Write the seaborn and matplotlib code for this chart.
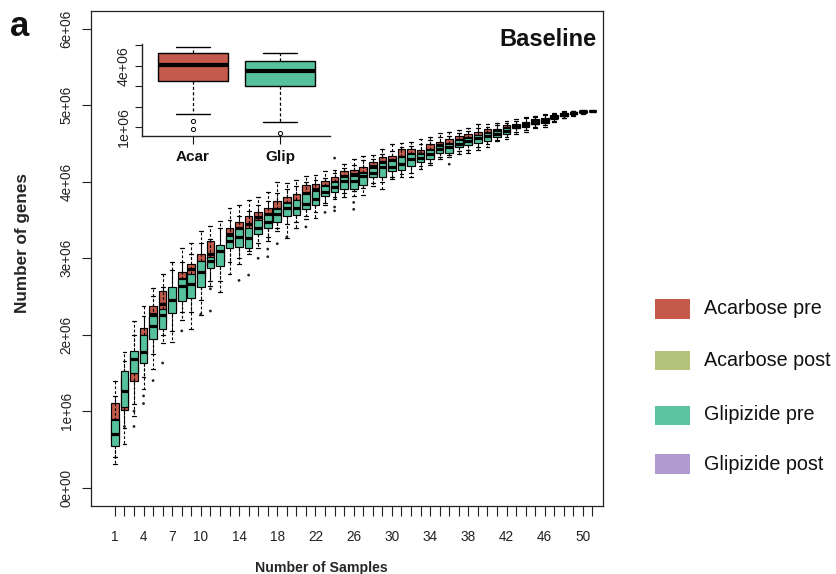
import numpy as np
import pandas as pd
import matplotlib
matplotlib.use("Agg")
import matplotlib.pyplot as plt
import seaborn as sns
from matplotlib.patches import Rectangle

# ---------------- data (values in units of 1e6 genes) ----------------
samples = list(range(1, 52))

acar_lo = [0.40, 0.78, 1.10, 1.45, 1.75, 2.00, 2.05, 2.30, 2.30, 2.45,
           2.70, 2.70, 2.95, 3.00, 3.10, 3.20, 3.28, 3.40, 3.45, 3.48,
           3.55, 3.60, 3.72, 3.80, 3.85, 3.88, 3.92, 3.98, 4.00, 4.06,
           4.10, 4.12, 4.20, 4.25, 4.32, 4.35, 4.40, 4.42, 4.46, 4.50,
           4.55, 4.59, 4.65, 4.68, 4.72, 4.74, 4.80, 4.84, 4.87, 4.90, 4.93]
acar_q1 = [0.62, 1.02, 1.40, 1.75, 2.05, 2.15, 2.32, 2.55, 2.62, 2.75,
           2.90, 2.95, 3.18, 3.25, 3.30, 3.38, 3.45, 3.52, 3.58, 3.62,
           3.70, 3.75, 3.84, 3.90, 3.95, 3.98, 4.02, 4.08, 4.12, 4.17,
           4.20, 4.24, 4.28, 4.32, 4.39, 4.42, 4.47, 4.50, 4.54, 4.57,
           4.61, 4.65, 4.71, 4.73, 4.76, 4.78, 4.83, 4.86, 4.89, 4.91, 4.93]
acar_med = [0.88, 1.22, 1.51, 1.95, 2.27, 2.40, 2.50, 2.73, 2.86, 2.95,
            3.05, 3.08, 3.32, 3.40, 3.45, 3.54, 3.58, 3.64, 3.72, 3.75,
            3.85, 3.90, 3.95, 4.00, 4.08, 4.10, 4.12, 4.20, 4.26, 4.28,
            4.32, 4.36, 4.36, 4.42, 4.48, 4.50, 4.54, 4.57, 4.60, 4.64,
            4.66, 4.70, 4.73, 4.76, 4.79, 4.81, 4.85, 4.88, 4.90, 4.92, 4.93]
acar_q3 = [1.11, 1.45, 1.74, 2.09, 2.38, 2.57, 2.60, 2.82, 2.92, 3.05,
           3.23, 3.15, 3.40, 3.48, 3.55, 3.61, 3.66, 3.75, 3.80, 3.84,
           3.96, 3.97, 4.01, 4.06, 4.14, 4.15, 4.19, 4.26, 4.32, 4.34,
           4.43, 4.43, 4.41, 4.49, 4.52, 4.56, 4.60, 4.62, 4.65, 4.69,
           4.69, 4.74, 4.75, 4.78, 4.82, 4.84, 4.87, 4.90, 4.91, 4.92, 4.93]
acar_hi = [1.40, 1.66, 2.00, 2.37, 2.61, 2.80, 2.95, 3.13, 3.20, 3.35,
           3.42, 3.40, 3.66, 3.69, 3.76, 3.80, 3.86, 4.00, 3.98, 4.02,
           4.08, 4.09, 4.14, 4.16, 4.23, 4.30, 4.34, 4.35, 4.43, 4.49,
           4.51, 4.52, 4.56, 4.59, 4.64, 4.65, 4.68, 4.70, 4.75, 4.76,
           4.77, 4.79, 4.82, 4.85, 4.86, 4.88, 4.90, 4.92, 4.93, 4.94, 4.93]

glip_lo = [0.31, 0.57, 0.94, 1.29, 1.55, 1.89, 1.90, 2.19, 2.08, 2.26,
           2.64, 2.56, 2.80, 2.92, 3.06, 3.14, 3.23, 3.36, 3.27, 3.40,
           3.51, 3.53, 3.69, 3.78, 3.80, 3.82, 3.83, 3.94, 3.90, 4.04,
           4.06, 4.06, 4.17, 4.22, 4.30, 4.32, 4.36, 4.38, 4.42, 4.46,
           4.53, 4.56, 4.62, 4.65, 4.70, 4.72, 4.78, 4.83, 4.86, 4.89, 4.93]
glip_q1 = [0.55, 1.06, 1.50, 1.63, 1.94, 2.08, 2.28, 2.44, 2.48, 2.62,
           2.87, 2.90, 3.14, 3.15, 3.14, 3.32, 3.40, 3.47, 3.55, 3.57,
           3.64, 3.69, 3.81, 3.87, 3.90, 3.91, 3.96, 4.06, 4.06, 4.14,
           4.16, 4.21, 4.26, 4.30, 4.37, 4.38, 4.45, 4.48, 4.51, 4.53,
           4.59, 4.63, 4.70, 4.72, 4.75, 4.77, 4.83, 4.86, 4.89, 4.91, 4.93]
glip_med = [0.70, 1.27, 1.68, 1.77, 2.11, 2.26, 2.45, 2.64, 2.66, 2.82,
            2.97, 3.10, 3.22, 3.28, 3.26, 3.40, 3.48, 3.58, 3.66, 3.66,
            3.71, 3.78, 3.86, 3.93, 4.01, 4.01, 4.08, 4.12, 4.19, 4.19,
            4.23, 4.30, 4.31, 4.36, 4.43, 4.45, 4.50, 4.53, 4.57, 4.60,
            4.63, 4.67, 4.72, 4.74, 4.77, 4.79, 4.84, 4.87, 4.90, 4.91, 4.93]
glip_q3 = [0.88, 1.52, 1.79, 2.00, 2.25, 2.34, 2.62, 2.73, 2.79, 2.97,
           3.02, 3.17, 3.29, 3.38, 3.40, 3.50, 3.56, 3.65, 3.72, 3.76,
           3.84, 3.88, 3.95, 4.00, 4.06, 4.08, 4.12, 4.18, 4.25, 4.27,
           4.32, 4.36, 4.36, 4.42, 4.47, 4.50, 4.54, 4.57, 4.61, 4.64,
           4.66, 4.70, 4.74, 4.76, 4.79, 4.82, 4.86, 4.89, 4.91, 4.92, 4.93]
glip_hi = [1.20, 1.78, 2.18, 2.25, 2.50, 2.62, 2.85, 2.95, 3.05, 3.20,
           3.25, 3.49, 3.50, 3.55, 3.62, 3.70, 3.75, 3.85, 3.90, 3.95,
           4.00, 4.02, 4.05, 4.12, 4.18, 4.22, 4.28, 4.30, 4.36, 4.40,
           4.45, 4.47, 4.50, 4.54, 4.58, 4.60, 4.64, 4.66, 4.70, 4.72,
           4.74, 4.77, 4.80, 4.83, 4.85, 4.87, 4.89, 4.91, 4.92, 4.93, 4.93]

outlier_n = [2, 3, 3, 4, 4, 5, 6, 8, 10, 11, 11, 14, 15, 16, 17, 17,
             18, 19, 21, 23, 24, 24, 24, 26, 26, 33, 36]
outlier_val = [0.80, 1.00, 0.80, 1.20, 1.10, 1.40, 1.63, 2.05, 2.27, 2.60,
               2.31, 2.71, 2.78, 3.00, 3.12, 3.02, 3.19, 3.28, 3.41, 3.60,
               4.31, 3.67, 3.62, 3.73, 3.64, 4.38, 4.23]

x_labels_shown = [1, 4, 7, 10, 14, 18, 22, 26, 30, 34, 38, 42, 46, 50]
y_tick_values = [0, 1, 2, 3, 4, 5, 6]
y_tick_labels = ["0e+00", "1e+06", "2e+06", "3e+06", "4e+06", "5e+06", "6e+06"]

inset_groups = ["Acar", "Glip"]
inset_acar = [1.62, 3.27, 4.04, 4.61, 4.89]   # lo, q1, med, q3, hi
inset_glip = [1.26, 3.01, 3.75, 4.25, 4.61]
inset_out_group = ["Acar", "Acar", "Glip"]
inset_out_val = [1.31, 0.90, 0.74]
inset_tick_values = [1, 2, 3, 4, 5]
inset_tick_labels = ["1e+06", "", "", "4e+06", ""]

legend_labels = ["Acarbose pre", "Acarbose post", "Glipizide pre", "Glipizide post"]
legend_colors = ["#C55A4B", "#B5C37A", "#5CC3A0", "#B19BCE"]

RED = "#C35A4B"
GREEN = "#55C29D"
SCALE = 1e6

# ---------------- build tables ----------------
rows = []
for grp, arrs in [("Acarbose pre", (acar_lo, acar_q1, acar_med, acar_q3, acar_hi)),
                  ("Glipizide pre", (glip_lo, glip_q1, glip_med, glip_q3, glip_hi))]:
    for i, n in enumerate(samples):
        for arr in arrs:
            rows.append({"n": n, "genes": arr[i] * SCALE, "group": grp})
df = pd.DataFrame(rows)
df_out = pd.DataFrame({"n": outlier_n, "genes": np.array(outlier_val) * SCALE})

in_rows = [{"drug": "Acar", "genes": v * SCALE} for v in inset_acar] + \
          [{"drug": "Glip", "genes": v * SCALE} for v in inset_glip]
df_in = pd.DataFrame(in_rows)
df_in_out = pd.DataFrame({"drug": inset_out_group, "genes": np.array(inset_out_val) * SCALE})

# ---------------- style ----------------
sns.set_theme(style="ticks")
plt.rcParams["font.family"] = ["Liberation Sans", "DejaVu Sans"]

W, H = 837, 574
fig = plt.figure(figsize=(W / 100, H / 100), dpi=100)

def fx(px):
    return px / W

def fy(py):
    return 1 - py / H

ax = fig.add_axes([fx(91), fy(506), fx(603) - fx(91), fy(10.5) - fy(506)])

box_kw = dict(x="n", y="genes", native_scale=True, whis=(0, 100), width=0.8,
              saturation=1, linecolor="black", linewidth=0.85, fliersize=0,
              medianprops=dict(color="black", linewidth=2.3),
              whiskerprops=dict(linestyle=(0, (2.5, 1.8)), linewidth=0.8),
              capprops=dict(linewidth=0.9))
sns.boxplot(data=df[df.group == "Acarbose pre"], color=RED, zorder=2, ax=ax, **box_kw)
sns.boxplot(data=df[df.group == "Glipizide pre"], color=GREEN, zorder=3, ax=ax, **box_kw)
sns.scatterplot(data=df_out, x="n", y="genes", ax=ax, marker="o", s=4,
                color="#222222", edgecolor="none", zorder=4, legend=False)

ax.set_xlim(-1.5, 52.1)
ax.set_ylim(-0.24 * SCALE, 6.24 * SCALE)
ax.set_xticks(samples)
ax.set_xticklabels([str(n) if n in x_labels_shown else "" for n in samples])
ax.set_yticks([v * SCALE for v in y_tick_values])
ax.set_yticklabels(y_tick_labels)
for lbl in ax.get_yticklabels():
    lbl.set_rotation(90)
    lbl.set_va("center")
ax.tick_params(axis="x", direction="out", length=7, width=0.8, pad=10,
               labelsize=9.8, colors="#222222")
ax.tick_params(axis="y", direction="out", length=6.5, width=0.8, pad=6,
               labelsize=9.8, colors="#222222")
for s in ax.spines.values():
    s.set_visible(True)
    s.set_linewidth(0.9)
    s.set_color("#222222")

ax.set_xlabel("Number of Samples", fontsize=10.2, fontweight="bold")
ax.set_ylabel("Number of genes", fontsize=12.3, fontweight="bold")
ax.xaxis.set_label_coords((321 - 91) / 512, (506 - 561) / 495.5)
ax.yaxis.set_label_coords((30 - 91) / 512, (506 - 243) / 495.5)

fig.text(fx(597), fy(40), "Baseline", fontsize=17, fontweight="bold",
         ha="right", va="center", color="#111111")
fig.text(fx(20), fy(26), "a", fontsize=25, fontweight="bold",
         ha="center", va="center", color="#111111")

# ---------------- inset ----------------
axi = fig.add_axes([fx(142), fy(136), fx(330) - fx(142), fy(44) - fy(136)])
sns.boxplot(data=df_in, x="drug", y="genes", hue="drug", order=inset_groups,
            hue_order=inset_groups, palette=[RED, GREEN], legend=False,
            whis=(0, 100), width=0.8, saturation=1, linecolor="black",
            linewidth=1.0, fliersize=0,
            medianprops=dict(color="black", linewidth=3.0),
            whiskerprops=dict(linestyle=(0, (2.5, 1.8)), linewidth=0.9),
            capprops=dict(linewidth=1.0), ax=axi)
sns.stripplot(data=df_in_out, x="drug", y="genes", order=inset_groups,
              jitter=False, color="white", edgecolor="black", linewidth=0.7,
              size=3, ax=axi, zorder=4)
axi.set_xlim(-0.586, 1.575)
axi.set_ylim(0.57 * SCALE, 5.06 * SCALE)
axi.set_yticks([v * SCALE for v in inset_tick_values])
axi.set_yticklabels(inset_tick_labels)
for lbl in axi.get_yticklabels():
    lbl.set_rotation(90)
    lbl.set_va("center")
axi.tick_params(axis="y", direction="out", length=5, width=0.8, pad=3,
                labelsize=10.2, colors="#222222")
axi.tick_params(axis="x", direction="out", length=6, width=0.8, pad=4,
                labelsize=11, colors="#111111")
for lbl in axi.get_xticklabels():
    lbl.set_fontweight("bold")
axi.set_xlabel("")
axi.set_ylabel("")
axi.spines["top"].set_visible(False)
axi.spines["right"].set_visible(False)
for s in ("left", "bottom"):
    axi.spines[s].set_linewidth(1.0)
    axi.spines[s].set_color("#222222")
axi.patch.set_alpha(0)

# ---------------- legend ----------------
leg_y = [309, 360, 415, 464]
for lab, col, yc in zip(legend_labels, legend_colors, leg_y):
    fig.patches.append(Rectangle((fx(655), fy(yc + 9.5)), fx(690) - fx(655),
                                 fy(yc - 9.5) - fy(yc + 9.5),
                                 transform=fig.transFigure, facecolor=col,
                                 edgecolor="none"))
    fig.text(fx(704), fy(yc), lab, fontsize=14.2, ha="left", va="center",
             color="#111111")

fig.savefig("out.png", dpi=100)
